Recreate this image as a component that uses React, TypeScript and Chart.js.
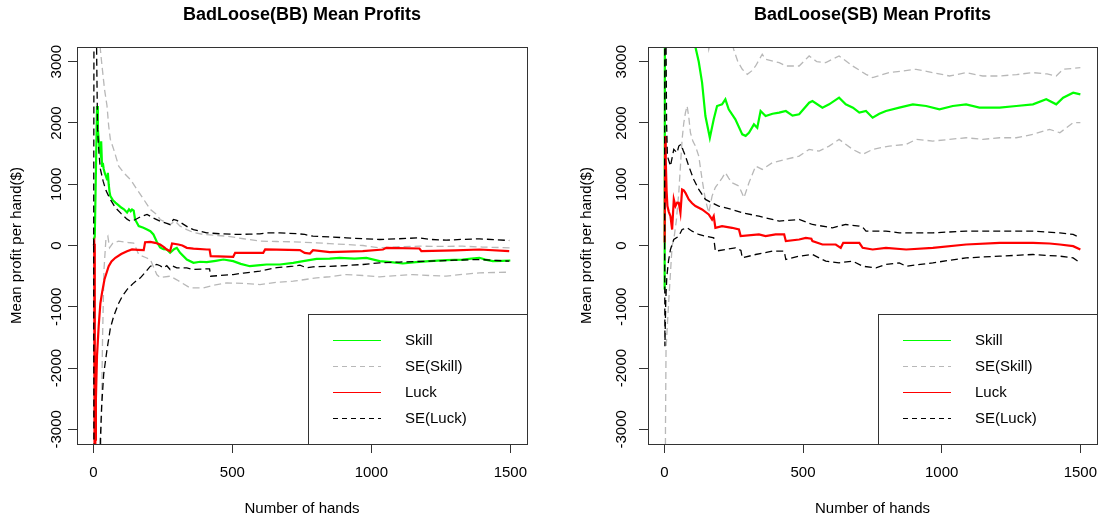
import React, { useEffect, useRef } from "react";
import { Chart, registerables } from "chart.js";

Chart.register(...registerables);

type Pt = [number, number];

const FONT = "'Liberation Sans', Arial, Helvetica, sans-serif";

const handTicks = [0, 500, 1000, 1500];
const profitTicks = [-3000, -2000, -1000, 0, 1000, 2000, 3000];
const handRange = [-59, 1560];
const profitRange = [-3240, 3240];
const legendLabels = ["Skill", "SE(Skill)", "Luck", "SE(Luck)"];
const panelTitles = ["BadLoose(BB) Mean Profits", "BadLoose(SB) Mean Profits"];
const xTitle = "Number of hands";
const yTitle = "Mean profit per hand($)";

// ---------- BadLoose(BB) ----------
const bbSkill: Pt[] = [[1,100],[5,150],[9,1200],[13,2277],[16,1900],[19,1732],[22,1600],[25,1520],[28,1700],[31,1300],[34,1350],[37,1250],[41,1180],[45,1133],[49,1078],[52,1188],[55,1000],[58,880],[61,806],[70,740],[79,700],[90,660],[100,620],[110,590],[121,539],[128,590],[134,560],[139,588],[145,570],[150,425],[163,316],[180,290],[193,261],[205,234],[216,180],[228,60],[240,-33],[252,-60],[264,-65],[276,-119],[290,-60],[300,-38],[312,-120],[336,-229],[360,-283],[384,-265],[408,-272],[440,-250],[468,-229],[503,-256],[530,-300],[563,-338],[600,-320],[623,-310],[671,-310],[719,-283],[755,-256],[803,-218],[850,-215],[886,-201],[940,-215],[982,-201],[1030,-256],[1070,-270],[1113,-294],[1160,-270],[1209,-256],[1270,-240],[1328,-229],[1360,-215],[1389,-201],[1410,-230],[1437,-256],[1470,-250],[1500,-245]];
const bbSkillUp: Pt[] = [[2,9000],[12,6000],[19,3700],[25,3203],[31,2930],[40,2550],[49,2277],[55,1950],[61,1732],[73,1569],[91,1296],[109,1188],[133,1078],[157,915],[181,752],[205,588],[228,507],[240,425],[276,343],[294,397],[312,316],[336,260],[360,212],[396,180],[440,165],[480,152],[540,110],[599,71],[660,65],[719,60],[803,44],[850,30],[910,16],[970,0],[1030,-38],[1100,-20],[1173,-11],[1250,-15],[1328,-11],[1400,-25],[1500,-38]];
const bbSkillLo: Pt[] = [[2,-9000],[20,-5000],[28,-3100],[33,-1500],[38,-400],[45,100],[52,152],[58,-38],[70,40],[90,70],[110,60],[125,49],[145,40],[155,-60],[163,-147],[190,-200],[205,-229],[228,-474],[240,-523],[276,-501],[300,-560],[348,-692],[396,-692],[430,-650],[480,-610],[540,-620],[599,-637],[660,-600],[719,-583],[803,-528],[850,-510],[910,-474],[970,-490],[1030,-512],[1090,-490],[1149,-474],[1210,-490],[1269,-501],[1330,-470],[1389,-446],[1450,-440],[1496,-436]];
const bbLuck: Pt[] = [[1,0],[3,30],[5,-6000],[7,-3170],[9,-2500],[13,-1800],[19,-1318],[25,-950],[31,-773],[40,-550],[55,-338],[65,-260],[79,-201],[100,-140],[121,-93],[139,-65],[160,-70],[181,-76],[186,54],[205,60],[222,44],[240,16],[255,-30],[264,-65],[276,-93],[283,33],[306,16],[320,0],[336,-38],[360,-50],[408,-65],[418,-65],[422,-174],[503,-185],[510,-120],[611,-120],[618,-65],[743,-76],[760,-120],[779,-131],[790,-76],[850,-109],[969,-93],[1042,-65],[1054,-38],[1173,-49],[1180,-93],[1300,-80],[1389,-65],[1496,-93]];
const bbLuckUp: Pt[] = [[1,0],[3,7000],[8,5000],[12,3000],[15,1900],[20,1500],[25,1250],[35,1050],[45,900],[55,806],[61,752],[79,620],[100,520],[121,430],[133,397],[150,420],[170,470],[193,507],[215,450],[240,397],[264,360],[276,340],[288,425],[300,410],[312,380],[340,300],[360,260],[384,234],[408,207],[460,190],[516,180],[560,185],[599,190],[623,207],[671,207],[740,190],[760,180],[790,152],[850,140],[910,125],[970,110],[1030,98],[1100,110],[1173,125],[1210,100],[1269,87],[1330,100],[1389,109],[1440,95],[1496,82]];
const bbLuckLo: Pt[] = [[1,0],[3,-8000],[20,-5000],[25,-3170],[30,-2600],[37,-2100],[49,-1699],[61,-1350],[73,-1155],[90,-950],[105,-820],[121,-719],[145,-610],[169,-528],[190,-420],[205,-338],[228,-310],[240,-330],[252,-365],[264,-330],[276,-392],[288,-340],[300,-365],[336,-365],[360,-392],[408,-381],[418,-381],[422,-501],[503,-474],[540,-450],[599,-419],[660,-360],[719,-338],[743,-320],[767,-365],[790,-348],[850,-340],[910,-327],[970,-310],[1030,-283],[1100,-270],[1209,-256],[1300,-240],[1389,-229],[1450,-245],[1496,-256]];

// ---------- BadLoose(SB) ----------
const sbSkill: Pt[] = [[1,-719],[3,9000],[20,6500],[60,4500],[100,3600],[112,3240],[124,3000],[136,2658],[148,2113],[164,1759],[178,2059],[190,2277],[208,2304],[220,2386],[232,2222],[256,2059],[281,1814],[293,1790],[305,1841],[323,1977],[335,1923],[347,2195],[365,2113],[390,2150],[414,2168],[438,2195],[462,2120],[486,2141],[522,2331],[534,2359],[570,2250],[594,2304],[630,2413],[654,2304],[680,2250],[703,2168],[727,2195],[751,2086],[775,2150],[799,2195],[847,2250],[896,2304],[944,2277],[992,2222],[1040,2277],[1088,2304],[1136,2250],[1209,2250],[1269,2277],[1329,2304],[1377,2386],[1413,2304],[1438,2413],[1474,2495],[1500,2467]];
const sbSkillUp: Pt[] = [[2,14000],[60,6000],[120,4200],[150,3600],[160,3200],[175,3500],[210,3800],[240,3400],[250,3200],[265,3000],[281,2876],[299,2794],[315,2850],[329,2930],[353,3121],[365,3039],[414,2985],[438,2930],[486,2930],[522,3094],[550,3000],[582,2985],[630,3094],[679,2930],[727,2794],[751,2740],[811,2822],[860,2850],[908,2876],[968,2822],[1028,2767],[1088,2822],[1148,2767],[1209,2767],[1270,2790],[1329,2822],[1380,2800],[1413,2767],[1438,2876],[1500,2903]];
const sbSkillLo: Pt[] = [[2,-9000],[4,-3000],[6,-1700],[12,-1200],[22,-447],[28,0],[34,98],[43,400],[52,861],[58,1300],[64,1732],[70,2000],[76,2168],[82,2277],[88,2100],[94,1841],[103,1700],[112,1623],[124,1460],[136,1078],[148,750],[160,534],[172,806],[184,950],[196,1024],[208,1100],[220,1188],[232,1100],[244,1024],[269,970],[287,780],[305,1024],[329,1296],[353,1242],[389,1351],[438,1405],[486,1460],[522,1569],[558,1541],[594,1623],[630,1732],[679,1569],[715,1487],[751,1569],[811,1623],[872,1650],[908,1732],[968,1705],[1028,1732],[1088,1759],[1148,1732],[1209,1759],[1269,1759],[1329,1814],[1389,1896],[1426,1841],[1474,2005],[1500,2005]];
const sbLuck: Pt[] = [[1,49],[3,1787],[5,1400],[8,900],[11,643],[16,550],[22,479],[28,261],[34,752],[40,643],[46,700],[52,697],[58,534],[64,915],[70,900],[76,861],[88,752],[100,690],[112,643],[136,588],[160,507],[172,425],[178,479],[184,289],[208,316],[244,289],[269,261],[275,153],[341,180],[365,153],[401,180],[432,180],[438,71],[486,98],[510,125],[530,110],[534,71],[570,16],[618,16],[636,-38],[645,44],[703,44],[715,-38],[751,-65],[799,-38],[872,-65],[968,-38],[1088,16],[1209,44],[1329,44],[1389,33],[1426,16],[1474,-11],[1500,-65]];
const sbLuckUp: Pt[] = [[1,49],[2,9000],[5,4000],[8,2000],[11,1460],[22,1296],[34,1569],[46,1514],[52,1623],[60,1650],[68,1550],[76,1460],[88,1296],[106,1078],[124,915],[148,752],[172,697],[196,643],[244,588],[281,534],[341,479],[414,398],[486,425],[534,343],[606,289],[654,343],[703,316],[715,300],[727,234],[799,234],[847,207],[968,207],[1088,234],[1209,234],[1329,234],[1426,207],[1474,180],[1500,125]];
const sbLuckLo: Pt[] = [[1,49],[2,-1645],[5,-900],[9,-501],[15,-250],[22,-65],[34,98],[52,153],[64,261],[82,289],[100,234],[124,180],[148,153],[178,125],[184,-93],[220,-65],[256,-38],[269,-65],[276,-80],[281,-202],[329,-147],[389,-93],[432,-93],[438,-229],[486,-174],[534,-147],[582,-256],[630,-283],[679,-256],[715,-338],[763,-365],[799,-310],[847,-283],[872,-338],[968,-283],[1088,-202],[1209,-174],[1329,-147],[1426,-174],[1474,-202],[1500,-283]];

const STYLES = {
  skill: { color: "#00FF00", width: 2.2, dash: [] as number[] },
  seSkill: { color: "#B8B8B8", width: 1.3, dash: [7, 4] },
  luck: { color: "#FF0000", width: 2.2, dash: [] as number[] },
  seLuck: { color: "#000000", width: 1.3, dash: [7, 4] },
};
const legendStyles = [STYLES.skill, STYLES.seSkill, STYLES.luck, STYLES.seLuck];

type Series = { skill: Pt[]; skillUp: Pt[]; skillLo: Pt[]; luck: Pt[]; luckUp: Pt[]; luckLo: Pt[] };
type Geo = { canvasLeft: number; plotLeft: number; padRight: number; labelX: number; yTitlePad: number };

const PANELS: { title: string; series: Series; geo: Geo }[] = [
  {
    title: panelTitles[0],
    series: { skill: bbSkill, skillUp: bbSkillUp, skillLo: bbSkillLo, luck: bbLuck, luckUp: bbLuckUp, luckLo: bbLuckLo },
    geo: { canvasLeft: 0, plotLeft: 77, padRight: 23, labelX: 57, yTitlePad: 8 },
  },
  {
    title: panelTitles[1],
    series: { skill: sbSkill, skillUp: sbSkillUp, skillLo: sbSkillLo, luck: sbLuck, luckUp: sbLuckUp, luckLo: sbLuckLo },
    geo: { canvasLeft: 550, plotLeft: 98, padRight: 3, labelX: 72, yTitlePad: 28 },
  },
];

function ds(label: string, pts: Pt[], st: { color: string; width: number; dash: number[] }) {
  return {
    label,
    data: pts.map(([x, y]) => ({ x, y })),
    borderColor: st.color,
    backgroundColor: st.color,
    borderWidth: st.width,
    borderDash: st.dash,
    pointRadius: 0,
    pointHoverRadius: 0,
    fill: false,
    tension: 0,
    clip: 0,
  };
}

function decorPlugin(geo: Geo) {
  return {
    id: "decor",
    afterDraw(chart: any) {
      const { ctx, chartArea: a, scales } = chart;
      const ys = scales.y;
      ctx.save();
      ctx.setLineDash([]);
      ctx.strokeStyle = "#333";
      ctx.lineWidth = 1;
      const L0 = Math.round(a.left) + 0.5;
      const T0 = Math.round(a.top) + 0.5;
      const R0 = Math.round(a.right) + 0.5;
      const B0 = Math.round(a.bottom) + 0.5;
      ctx.strokeRect(L0, T0, R0 - L0, B0 - T0);

      // rotated y tick labels
      ctx.fillStyle = "#000";
      ctx.font = `15px ${FONT}`;
      ctx.textAlign = "center";
      ctx.textBaseline = "middle";
      for (const t of ys.ticks) {
        const py = ys.getPixelForValue(t.value);
        ctx.save();
        ctx.translate(geo.labelX, py);
        ctx.rotate(-Math.PI / 2);
        ctx.fillText(String(t.value), 0, 0);
        ctx.restore();
      }

      // legend (bottom right)
      const lx = Math.round(a.right) - 219;
      const ty = Math.round(a.bottom) - 130;
      ctx.fillStyle = "#fff";
      ctx.fillRect(lx, ty, R0 - lx, B0 - ty);
      ctx.strokeStyle = "#333";
      ctx.strokeRect(lx + 0.5, ty + 0.5, R0 - lx - 0.5, B0 - ty - 0.5);
      legendLabels.forEach((lab, i) => {
        const st = legendStyles[i];
        const ry = ty + 26 + i * 26;
        ctx.strokeStyle = st.color;
        ctx.lineWidth = 1;
        ctx.setLineDash(st.dash.length ? [5, 4] : []);
        ctx.beginPath();
        ctx.moveTo(lx + 25, ry + 0.5);
        ctx.lineTo(lx + 73, ry + 0.5);
        ctx.stroke();
        ctx.setLineDash([]);
        ctx.fillStyle = "#000";
        ctx.textAlign = "left";
        ctx.textBaseline = "middle";
        ctx.fillText(lab, lx + 97, ry + 1);
      });
      ctx.restore();
    },
  };
}

function Panel({ title, series, geo }: { title: string; series: Series; geo: Geo }) {
  const ref = useRef<HTMLCanvasElement>(null);
  useEffect(() => {
    const font = { family: FONT, size: 15 };
    const axisGrid = { drawOnChartArea: false, drawTicks: true, tickLength: 9, color: "#333", lineWidth: 1 };
    const chart = new Chart(ref.current as HTMLCanvasElement, {
      type: "line",
      data: {
        datasets: [
          ds("SE(Luck)", series.luckUp, STYLES.seLuck),
          ds("SE(Luck) lower", series.luckLo, STYLES.seLuck),
          ds("Luck", series.luck, STYLES.luck),
          ds("SE(Skill)", series.skillUp, STYLES.seSkill),
          ds("SE(Skill) lower", series.skillLo, STYLES.seSkill),
          ds("Skill", series.skill, STYLES.skill),
        ] as any,
      },
      options: {
        animation: false,
        responsive: false,
        maintainAspectRatio: false,
        events: [],
        layout: { padding: { left: 0, right: geo.padRight, top: 0, bottom: 0 } },
        plugins: {
          legend: { display: false },
          tooltip: { enabled: false },
          title: {
            display: true,
            text: title,
            fullSize: false,
            color: "#000",
            font: { family: FONT, size: 18, weight: "bold" },
            padding: { top: 4, bottom: 21.4 },
          },
        },
        scales: {
          x: {
            type: "linear",
            min: handRange[0],
            max: handRange[1],
            afterBuildTicks: (s: any) => {
              s.ticks = handTicks.map((v) => ({ value: v }));
            },
            afterFit: (s: any) => {
              s.height = 72;
              s.paddingLeft = 0;
              s.paddingRight = 0;
            },
            grid: axisGrid,
            border: { display: true, color: "#333" },
            ticks: {
              font,
              color: "#000",
              padding: 11,
              maxRotation: 0,
              autoSkip: false,
              callback: (v: any) => String(v),
            },
            title: { display: true, text: xTitle, font, color: "#000", padding: { top: 0, bottom: -2 } },
          },
          y: {
            type: "linear",
            min: profitRange[0],
            max: profitRange[1],
            afterBuildTicks: (s: any) => {
              s.ticks = profitTicks.map((v) => ({ value: v }));
            },
            afterFit: (s: any) => {
              s.width = geo.plotLeft;
              s.paddingTop = 0;
              s.paddingBottom = 0;
            },
            grid: axisGrid,
            border: { display: true, color: "#333" },
            ticks: { display: false },
            title: { display: true, text: yTitle, font, color: "#000", padding: { top: geo.yTitlePad, bottom: 0 } },
          },
        },
      } as any,
      plugins: [decorPlugin(geo)],
    });
    return () => chart.destroy();
  }, []);
  return (
    <canvas
      ref={ref}
      width={550}
      height={516}
      style={{ position: "absolute", left: geo.canvasLeft, top: 0, width: 550, height: 516 }}
    />
  );
}

export default function App() {
  return (
    <div style={{ position: "absolute", left: 0, top: 0, width: 1100, height: 516, background: "#fff", overflow: "hidden" }}>
      {PANELS.map((p) => (
        <Panel key={p.title} title={p.title} series={p.series} geo={p.geo} />
      ))}
    </div>
  );
}
